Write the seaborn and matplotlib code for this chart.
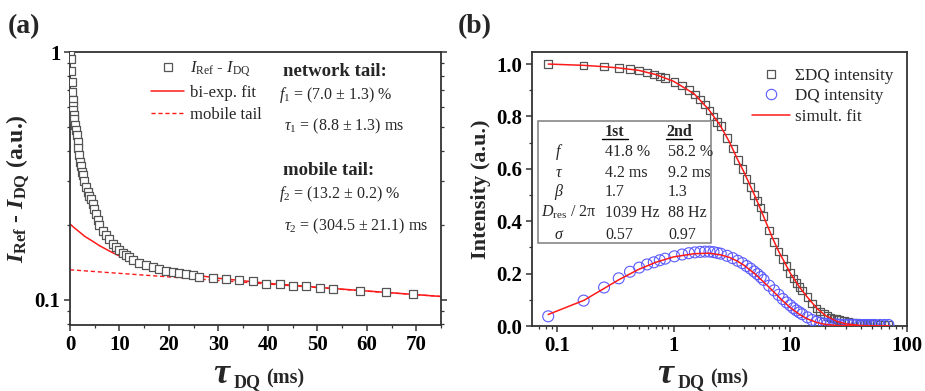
import numpy as np
import matplotlib
matplotlib.use("Agg")
import matplotlib.pyplot as plt
import seaborn as sns
from matplotlib.lines import Line2D
from matplotlib.patches import Rectangle
from matplotlib.ticker import FixedLocator, NullFormatter

# ---------------- data ----------------
# dipolar evolution times tau_DQ (ms), shared by both panels
tau = [0.084, 0.169, 0.253, 0.338, 0.422, 0.506, 0.591, 0.675, 0.760, 0.844,
       1.013, 1.181, 1.350, 1.519, 1.688, 1.856, 2.025, 2.194, 2.363, 2.531,
       2.869, 3.206, 3.544, 3.881, 4.219, 4.556, 4.894, 5.231, 5.569, 5.906,
       6.58, 7.26, 7.93, 8.61, 9.28, 9.96, 10.63, 11.31, 11.98, 12.66,
       14.01, 15.36, 16.71, 18.06, 19.41, 20.76, 22.11, 23.46, 24.81, 26.16,
       28.86, 31.56, 34.26, 36.96, 39.66, 42.36, 45.06, 47.76, 50.46, 53.16,
       58.56, 63.96, 69.36]

# panel (a): I_Ref - I_DQ
i_diff = [1.0, 0.94, 0.84, 0.755, 0.69, 0.64, 0.605, 0.583, 0.557, 0.537,
          0.508, 0.484, 0.462, 0.435, 0.409, 0.384, 0.361, 0.345, 0.329, 0.318,
          0.300, 0.285, 0.272, 0.263, 0.255, 0.244, 0.233, 0.222, 0.210, 0.200,
          0.190, 0.182, 0.175, 0.168, 0.163, 0.158, 0.154, 0.151, 0.148, 0.145,
          0.141, 0.138, 0.135, 0.133, 0.131, 0.129, 0.128, 0.127, 0.126, 0.124,
          0.122, 0.121, 0.1196, 0.119, 0.116, 0.1157, 0.114, 0.1138, 0.1115, 0.110,
          0.108, 0.107, 0.1053]

tau_fit_a = [0, 1, 2, 3, 4, 5, 6, 7, 8, 10, 12, 14, 17, 20, 25, 30, 40, 50, 60, 75]
biexp_fit = [0.202, 0.194, 0.187, 0.180, 0.175, 0.170, 0.165, 0.161, 0.157, 0.150,
             0.145, 0.140, 0.135, 0.131, 0.126, 0.122, 0.1164, 0.1122, 0.1084, 0.1030]
tau_tail = [0, 75]
mobile_tail = [0.132, 0.103]

# panel (b): normalised intensities
sum_dq = [1.0, 0.995, 0.99, 0.985, 0.981, 0.975, 0.968, 0.960, 0.953, 0.946,
          0.932, 0.918, 0.900, 0.884, 0.865, 0.845, 0.822, 0.800, 0.778, 0.763,
          0.718, 0.678, 0.633, 0.599, 0.561, 0.530, 0.500, 0.477, 0.452, 0.420,
          0.365, 0.320, 0.285, 0.255, 0.228, 0.202, 0.182, 0.165, 0.150, 0.136,
          0.110, 0.086, 0.067, 0.055, 0.045, 0.038, 0.033, 0.029, 0.026, 0.023,
          0.019, 0.016, 0.013, 0.011, 0.010, 0.009, 0.008, 0.008, 0.007, 0.007,
          0.006, 0.006, 0.006]
dq = [0.037, 0.097, 0.147, 0.182, 0.207, 0.223, 0.235, 0.243, 0.251, 0.257,
      0.266, 0.273, 0.278, 0.281, 0.283, 0.284, 0.284, 0.282, 0.279, 0.276,
      0.268, 0.259, 0.249, 0.240, 0.229, 0.219, 0.208, 0.198, 0.187, 0.176,
      0.154, 0.136, 0.119, 0.103, 0.090, 0.079, 0.068, 0.059, 0.052, 0.045,
      0.033, 0.023, 0.016, 0.012, 0.009, 0.008, 0.007, 0.006, 0.006, 0.005,
      0.005, 0.005, 0.005, 0.004, 0.004, 0.004, 0.004, 0.004, 0.004, 0.004,
      0.004, 0.004, 0.004]

tau_fit_b = [0.084, 0.17, 0.25, 0.34, 0.5, 0.7, 1.0, 1.5, 2.0, 2.5, 3.0, 3.5, 4.0,
             5.0, 6.0, 7.0, 8.0, 9.0, 10.0, 12.0, 14.0, 17.0, 20.0, 25.0, 30.0,
             40.0, 50.0, 70.0]
sum_fit = [1.0, 0.995, 0.99, 0.985, 0.976, 0.96, 0.934, 0.886, 0.826, 0.766, 0.703,
           0.639, 0.588, 0.494, 0.41, 0.338, 0.282, 0.24, 0.201, 0.148, 0.11, 0.066,
           0.04, 0.018, 0.008, 0.002, 0.0005, 0.0]
dq_fit = [0.044, 0.098, 0.142, 0.177, 0.216, 0.243, 0.264, 0.276, 0.278, 0.272,
          0.262, 0.248, 0.232, 0.198, 0.165, 0.136, 0.11, 0.088, 0.07, 0.044, 0.027,
          0.013, 0.006, 0.002, 0.001, 0.0, 0.0, 0.0]

table_cols = ["1st", "2nd"]
table_rows = [r"$f$", r"$\tau$", r"$\beta$", r"$D_{\rm res}$ / 2π", r"$\sigma$"]
table_1st = ["41.8 %", "4.2 ms", "1.7", "1039 Hz", "0.57"]
table_2nd = ["58.2 %", "9.2 ms", "1.3", "88 Hz", "0.97"]

# ---------------- style ----------------
sns.set_theme(style="ticks")
plt.rcParams["font.family"] = ["Liberation Serif", "DejaVu Serif"]
plt.rcParams["mathtext.fontset"] = "custom"
plt.rcParams["mathtext.rm"] = "Liberation Serif"
plt.rcParams["mathtext.it"] = "Liberation Serif:italic"
plt.rcParams["mathtext.bf"] = "Liberation Serif:bold"
plt.rcParams["mathtext.bfit"] = "Liberation Serif:bold:italic"

W, H = 925, 391
fig = plt.figure(figsize=(W / 100, H / 100), dpi=100)


def fpos(x, y):
    return x / W, 1 - y / H


def ftext(x, y, s, **kw):
    fx, fy = fpos(x, y)
    return fig.text(fx, fy, s, **kw)


ax1 = fig.add_axes([70 / W, 1 - 325 / H, (441 - 70) / W, (325 - 52) / H])
ax2 = fig.add_axes([532 / W, 1 - 326 / H, (907 - 532) / W, (326 - 52) / H])

RED = "#ff1a1a"
SQ_EDGE = "#555555"
BLUE = "#5a5aff"

# ---------------- panel (a) ----------------
sns.lineplot(x=tau_tail, y=mobile_tail, ax=ax1, color=RED, lw=1.0, linestyle=(0, (3, 2)))
sns.lineplot(x=tau_fit_a, y=biexp_fit, ax=ax1, color=RED, lw=1.1)
sns.scatterplot(x=tau, y=i_diff, ax=ax1, marker="s", s=34, facecolor="white",
                edgecolor=SQ_EDGE, linewidth=0.9, zorder=3)
ax1.set_yscale("log")
ax1.set_xlim(0, 75)
ax1.set_ylim(0.079, 1.0)
ax1.set_yticks([0.1, 1], ["0.1", "1"], fontweight="bold", fontsize=15)
ax1.yaxis.set_minor_locator(FixedLocator([0.08, 0.09] + [0.1 * k for k in range(2, 10)]))
ax1.yaxis.set_minor_formatter(NullFormatter())
ax1.set_xticks(range(0, 71, 10), [str(v) for v in range(0, 71, 10)], fontweight="bold", fontsize=15)
ax1.xaxis.set_minor_locator(FixedLocator(list(range(5, 76, 10))))

# ---------------- panel (b) ----------------
sns.lineplot(x=tau_fit_b, y=sum_fit, ax=ax2, color=RED, lw=1.1, zorder=4)
sns.lineplot(x=tau_fit_b, y=dq_fit, ax=ax2, color=RED, lw=1.1, zorder=4)
sns.scatterplot(x=tau, y=sum_dq, ax=ax2, marker="s", s=30, facecolor="none",
                edgecolor=SQ_EDGE, linewidth=0.9, zorder=3)
sns.scatterplot(x=tau, y=dq, ax=ax2, marker="o", s=62, facecolor="none",
                edgecolor=BLUE, linewidth=0.8, zorder=3)
ax2.set_xscale("log")
ax2.set_xlim(0.061, 100)
ax2.set_ylim(0, 1.046)
ax2.set_xticks([0.1, 1, 10, 100], ["0.1", "1", "10", "100"], fontweight="bold", fontsize=15)
ax2.xaxis.set_minor_locator(FixedLocator([m * d for d in (0.01, 0.1, 1, 10) for m in range(2, 10)]))
ax2.xaxis.set_minor_formatter(NullFormatter())
ax2.set_yticks([0, 0.2, 0.4, 0.6, 0.8, 1.0], ["0.0", "0.2", "0.4", "0.6", "0.8", "1.0"],
               fontweight="bold", fontsize=15)
ax2.yaxis.set_minor_locator(FixedLocator([0.1, 0.3, 0.5, 0.7, 0.9]))

for ax in (ax1, ax2):
    ax.set_xlabel("")
    ax.set_ylabel("")
    for sp in ax.spines.values():
        sp.set_visible(True)
        sp.set_linewidth(1.3)
        sp.set_color("#333333")
    ax.tick_params(which="major", direction="out", length=4, width=1.1, colors="#333333",
                   labelcolor="black", pad=3)
    ax.tick_params(which="minor", direction="out", length=2.5, width=0.9, colors="#333333")
ax1.tick_params(axis="y", which="both", right=True)

# y labels
ax1.set_ylabel(r"$\mathbfit{I}_{\mathbf{Ref}}$ - $\mathbfit{I}_{\mathbf{DQ}}$ (a.u.)",
               fontsize=17, fontweight="bold", labelpad=2)
ax2.set_ylabel("Intensity (a.u.)", fontsize=16, fontweight="bold", labelpad=4)

# x labels built from pieces
for x0 in (213, 657):
    ftext(x0, 383, "τ", fontsize=26, fontweight="bold", fontstyle="italic", ha="left", va="baseline")
    ftext(x0 + 21, 387, "DQ", fontsize=13, fontweight="bold", ha="left", va="baseline")
    ftext(x0 + 53, 383, "(ms)", fontsize=14.5, fontweight="bold", ha="left", va="baseline")

# panel labels
ftext(8, 33, "(a)", fontsize=20, fontweight="bold", ha="left", va="baseline")
ftext(458, 33, "(b)", fontsize=20, fontweight="bold", ha="left", va="baseline")

# legend (a)
h_a = [Line2D([], [], ls="none", marker="s", ms=5.8, mfc="white", mec=SQ_EDGE, mew=0.9),
       Line2D([], [], color=RED, lw=1.1),
       Line2D([], [], color=RED, lw=1.0, ls=(0, (3, 2)))]
l_a = [r"$I_{\rm Ref}$ - $I_{\rm DQ}$", "bi-exp. fit", "mobile tail"]
ax1.legend(h_a, l_a, loc="upper left", bbox_to_anchor=fpos(151, 60),
           bbox_transform=fig.transFigure, frameon=False, fontsize=12,
           handlelength=2.0, handletextpad=0.35, labelspacing=0.35, borderpad=0,
           borderaxespad=0)

# annotations (a)
ftext(283, 76, "network tail:", fontsize=13.5, fontweight="bold", ha="left", va="baseline")
ftext(279, 99, r"$f_1$ = (7.0 ± 1.3) %", fontsize=11.5, ha="left", va="baseline")
ftext(284, 130, r"$\tau_1$ = (8.8 ± 1.3) ms", fontsize=11.5, ha="left", va="baseline")
ftext(283, 175, "mobile tail:", fontsize=13.5, fontweight="bold", ha="left", va="baseline")
ftext(279, 198, r"$f_2$ = (13.2 ± 0.2) %", fontsize=11.5, ha="left", va="baseline")
ftext(284, 230, r"$\tau_2$ = (304.5 ± 21.1) ms", fontsize=11.5, ha="left", va="baseline")

# legend (b)
h_b = [Line2D([], [], ls="none", marker="s", ms=5.5, mfc="none", mec=SQ_EDGE, mew=0.9),
       Line2D([], [], ls="none", marker="o", ms=7.5, mfc="none", mec=BLUE, mew=0.8),
       Line2D([], [], color=RED, lw=1.1)]
l_b = ["ΣDQ intensity", "DQ intensity", "simult. fit"]
ax2.legend(h_b, l_b, loc="upper left", bbox_to_anchor=fpos(752, 68),
           bbox_transform=fig.transFigure, frameon=False, fontsize=12.3,
           handlelength=2.2, handletextpad=0.3, labelspacing=0.25, borderpad=0,
           borderaxespad=0)

# parameter table in panel (b)
x0, y0 = fpos(538, 243)
x1, y1 = fpos(711, 121)
fig.add_artist(Rectangle((x0, y0), x1 - x0, y1 - y0, transform=fig.transFigure,
                         fill=True, facecolor="white", edgecolor="#888888", lw=1.2, zorder=5))
tk = dict(fontsize=11.5, ha="left", va="baseline", zorder=6)
for cx, name in zip((615, 679), table_cols):
    ftext(cx, 136, name, fontsize=11.5, fontweight="bold", ha="center", va="baseline", zorder=6)
    xa, ya = fpos(cx - 13, 139)
    xb, _ = fpos(cx + 13, 139)
    fig.add_artist(Line2D([xa, xb], [ya, ya], transform=fig.transFigure, color="black", lw=1.0, zorder=6))
row_y = [156, 177, 196, 217, 239]
for yy, lab, v1, v2 in zip(row_y, table_rows, table_1st, table_2nd):
    ftext(559 if "D" not in lab else 569, yy, lab, fontsize=11.5, ha="center", va="baseline", zorder=6)
    ftext(605, yy, v1, **tk)
    ftext(668, yy, v2, **tk)

fig.savefig("out.png", dpi=100)
